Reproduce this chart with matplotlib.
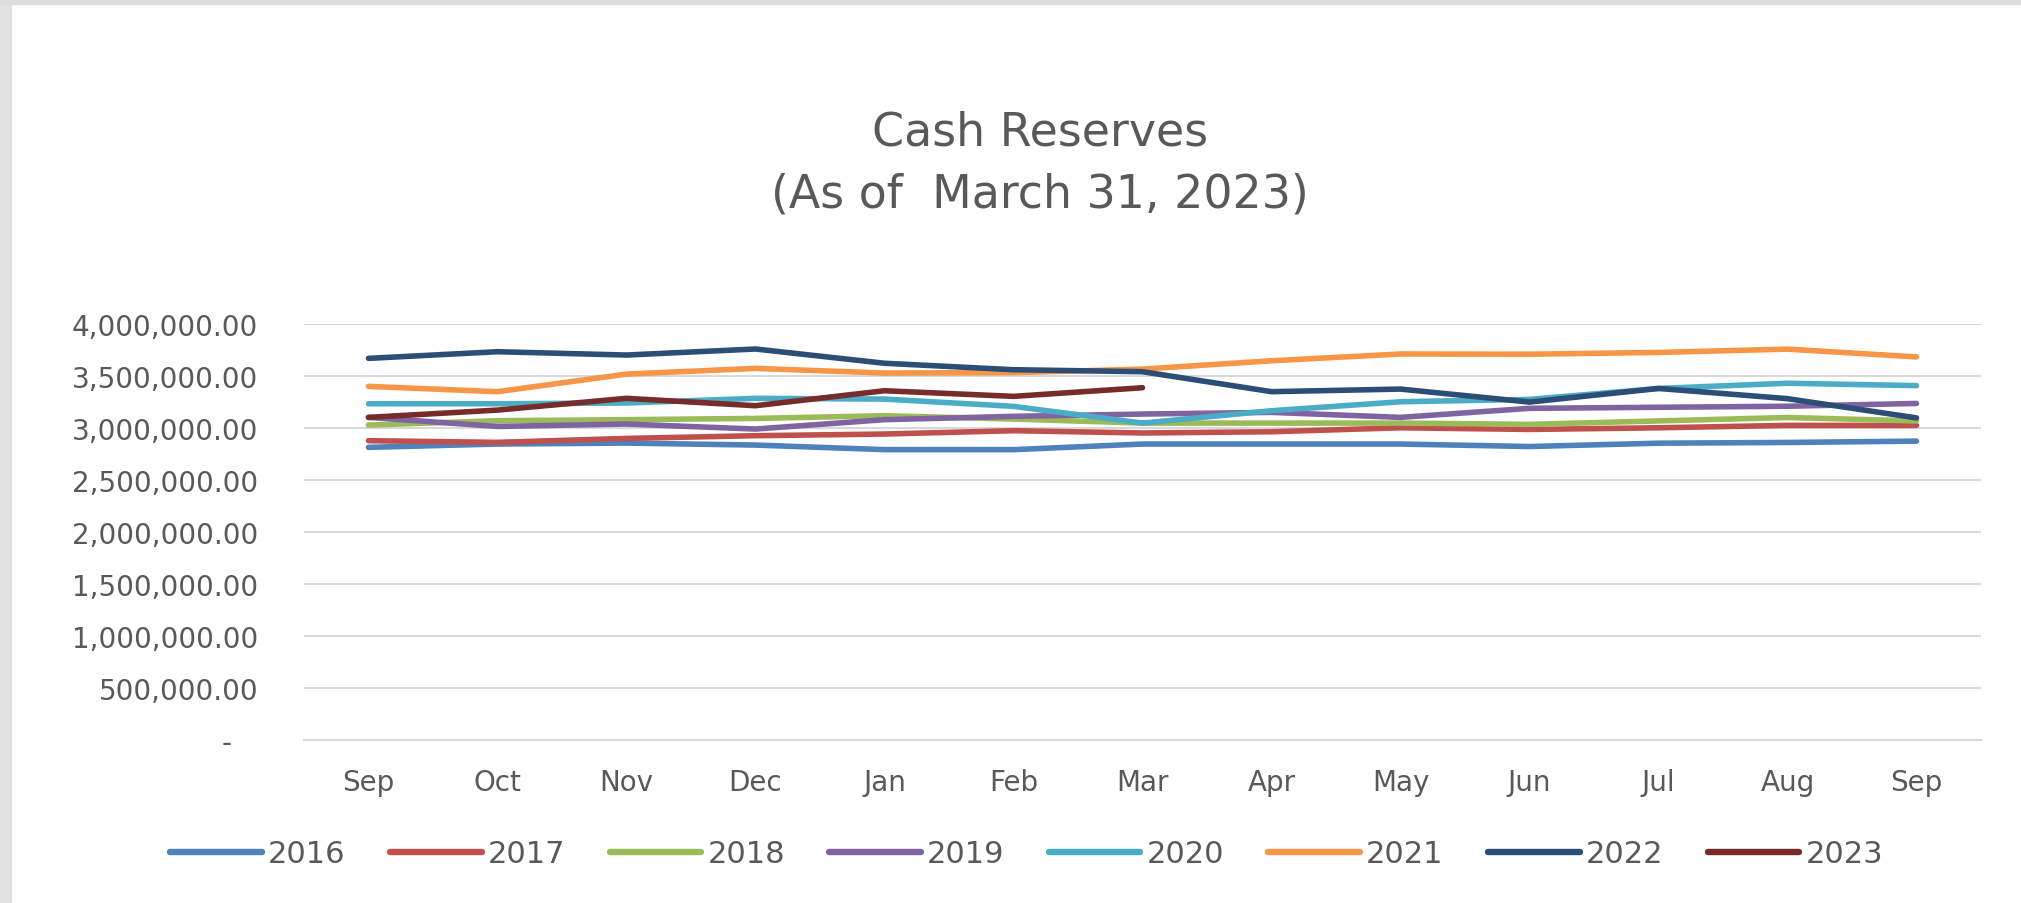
import matplotlib.pyplot as plt
from matplotlib.patches import Rectangle
from matplotlib.ticker import FuncFormatter

# month axis, Sep through Sep
months = ['Sep', 'Oct', 'Nov', 'Dec', 'Jan', 'Feb', 'Mar',
          'Apr', 'May', 'Jun', 'Jul', 'Aug', 'Sep']

y2016 = [2812000, 2844000, 2853000, 2834000, 2790000, 2790000, 2844000,
         2844000, 2844000, 2820000, 2852000, 2859000, 2872000]
y2017 = [2876000, 2860000, 2898000, 2924000, 2940000, 2972000, 2950000,
         2962000, 3000000, 2984000, 3000000, 3023000, 3023000]
y2018 = [3026000, 3068000, 3078000, 3090000, 3116000, 3084000, 3045000,
         3045000, 3045000, 3033000, 3066000, 3099000, 3066000]
y2019 = [3100000, 3013000, 3036000, 2988000, 3078000, 3110000, 3132000,
         3148000, 3100000, 3187000, 3197000, 3207000, 3234000]
y2020 = [3231000, 3231000, 3238000, 3283000, 3276000, 3206000, 3045000,
         3164000, 3250000, 3273000, 3378000, 3428000, 3405000]
y2021 = [3398000, 3347000, 3516000, 3571000, 3526000, 3530000, 3564000,
         3644000, 3709000, 3707000, 3724000, 3756000, 3681000]
y2022 = [3667000, 3731000, 3699000, 3757000, 3620000, 3558000, 3539000,
         3347000, 3372000, 3247000, 3378000, 3280000, 3095000]
y2023 = [3100000, 3170000, 3283000, 3212000, 3356000, 3302000, 3385000]

years = ['2016', '2017', '2018', '2019', '2020', '2021', '2022', '2023']
series = [y2016, y2017, y2018, y2019, y2020, y2021, y2022, y2023]
colors = ['#4F81BD', '#C0504D', '#9BBB59', '#8064A2',
          '#4BACC6', '#F79646', '#2C4D75', '#772C2A']

txt = '#595959'
grid = '#D9D9D9'

plt.rcParams['font.family'] = ['DejaVu Sans']

fig = plt.figure(figsize=(20.21, 9.04), dpi=100)
ax = fig.add_axes([0.1504, 0.1803, 0.8298, 0.4605])

for name, vals, c in zip(years, series, colors):
    ax.plot(range(len(vals)), vals, color=c, lw=4.0, label=name,
            solid_capstyle='round', solid_joinstyle='round')

ax.set_xlim(-0.5, len(months) - 0.5)
ax.set_ylim(0, 4000000)
ax.set_yticks(range(0, 4000001, 500000))
ax.set_xticks(range(len(months)))
ax.set_xticklabels(months)


def acct(v, pos):
    if v == 0:
        return '-   '
    return '{:,.2f}'.format(v)


ax.yaxis.set_major_formatter(FuncFormatter(acct))
ax.grid(axis='y', color=grid, lw=1.5)
ax.set_axisbelow(True)
for s in ['top', 'right', 'left']:
    ax.spines[s].set_visible(False)
ax.spines['bottom'].set_color(grid)
ax.spines['bottom'].set_linewidth(1.5)
ax.tick_params(axis='both', length=0, labelsize=20, colors=txt)
ax.tick_params(axis='y', pad=33)
ax.tick_params(axis='x', pad=20)

fig.text(0.5146, 1 - 164 / 904, 'Cash Reserves\n(As of  March 31, 2023)',
         ha='center', va='center', fontsize=33, color=txt, linespacing=1.5)

leg = fig.legend(loc='center', bbox_to_anchor=(0.508, 1 - 855 / 904), ncol=8,
                 frameon=False, fontsize=22, handlelength=3.0,
                 handletextpad=0.2, columnspacing=1.45, labelcolor=txt)
for h in leg.get_lines():
    h.set_linewidth(4.6)

# grey frame of the screenshot
fig.patches.append(Rectangle((0, 0), 11 / 2021, 1, transform=fig.transFigure,
                             color='#E2E2E2', zorder=0))
fig.patches.append(Rectangle((0, 1 - 5 / 904), 1, 5 / 904,
                             transform=fig.transFigure, color='#DCDCDC', zorder=0))

fig.savefig('out.png', dpi=100, facecolor='white')
